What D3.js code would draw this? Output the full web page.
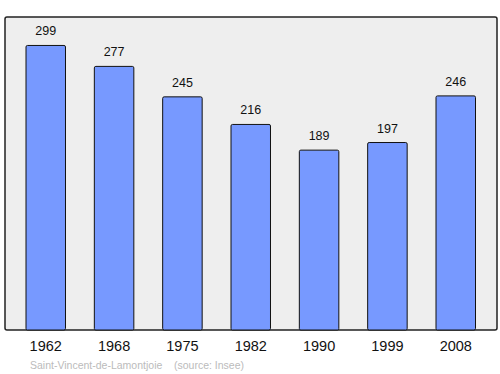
<!DOCTYPE html>
<html>
<head>
<meta charset="utf-8">
<script src="https://cdn.jsdelivr.net/npm/d3@7"></script>
<style>
  body { margin: 0; background: #fff; }
  svg { display: block; font-family: "Liberation Sans", Arial, sans-serif; }
</style>
</head>
<body>
<svg id="chart"></svg>
<script>
// data
const years = ['1962', '1968', '1975', '1982', '1990', '1999', '2008'];
const population = [299, 277, 245, 216, 189, 197, 246];
const commune = 'Saint-Vincent-de-Lamontjoie';
const source = '(source: Insee)';

const [width, height] = [500, 374];
const frame = {left: 5, top: 17, right: 497, bottom: 330};

const svg = d3.select('#chart')
    .attr('width', width)
    .attr('height', height);

// background frame
svg.append('rect')
    .attr('x', frame.left)
    .attr('y', frame.top)
    .attr('width', frame.right - frame.left)
    .attr('height', frame.bottom - frame.top)
    .attr('rx', 2)
    .attr('fill', '#eeeeee')
    .attr('stroke', '#222')
    .attr('stroke-width', 1.5);

const x = d3.scaleBand()
    .domain(years)
    .range([26, 475.5])
    .paddingInner(0.422)
    .paddingOuter(0);

const y = d3.scaleLinear()
    .domain([0, d3.max(population) * 1.1])
    .range([frame.bottom, frame.top]);

const bars = svg.append('g');
bars.selectAll('rect')
    .data(years)
    .enter().append('rect')
    .attr('x', d => x(d))
    .attr('y', (d, i) => y(population[i]))
    .attr('width', x.bandwidth())
    .attr('height', (d, i) => frame.bottom - y(population[i]))
    .attr('rx', 1.5)
    .attr('fill', '#7799ff')
    .attr('stroke', '#111')
    .attr('stroke-width', 1);

// value labels
svg.append('g').selectAll('text')
    .data(years)
    .enter().append('text')
    .attr('x', d => x(d) + x.bandwidth() / 2)
    .attr('y', (d, i) => y(population[i]) - 10)
    .attr('text-anchor', 'middle')
    .attr('font-size', 12.5)
    .attr('fill', '#111')
    .text((d, i) => population[i]);

// year axis
const axis = svg.append('g')
    .attr('transform', 'translate(0,' + frame.bottom + ')')
    .call(d3.axisBottom(x).tickSize(0).tickPadding(11));
axis.select('.domain').remove();
axis.selectAll('text')
    .attr('font-size', 14.5)
    .attr('fill', '#111')
    .attr('font-family', '"Liberation Sans", Arial, sans-serif');

// caption
svg.append('text')
    .attr('x', 30)
    .attr('y', 369)
    .attr('font-size', 10.5)
    .attr('fill', '#bbb')
    .text(commune + '\u00a0\u00a0\u00a0\u00a0' + source);
</script>
</body>
</html>
